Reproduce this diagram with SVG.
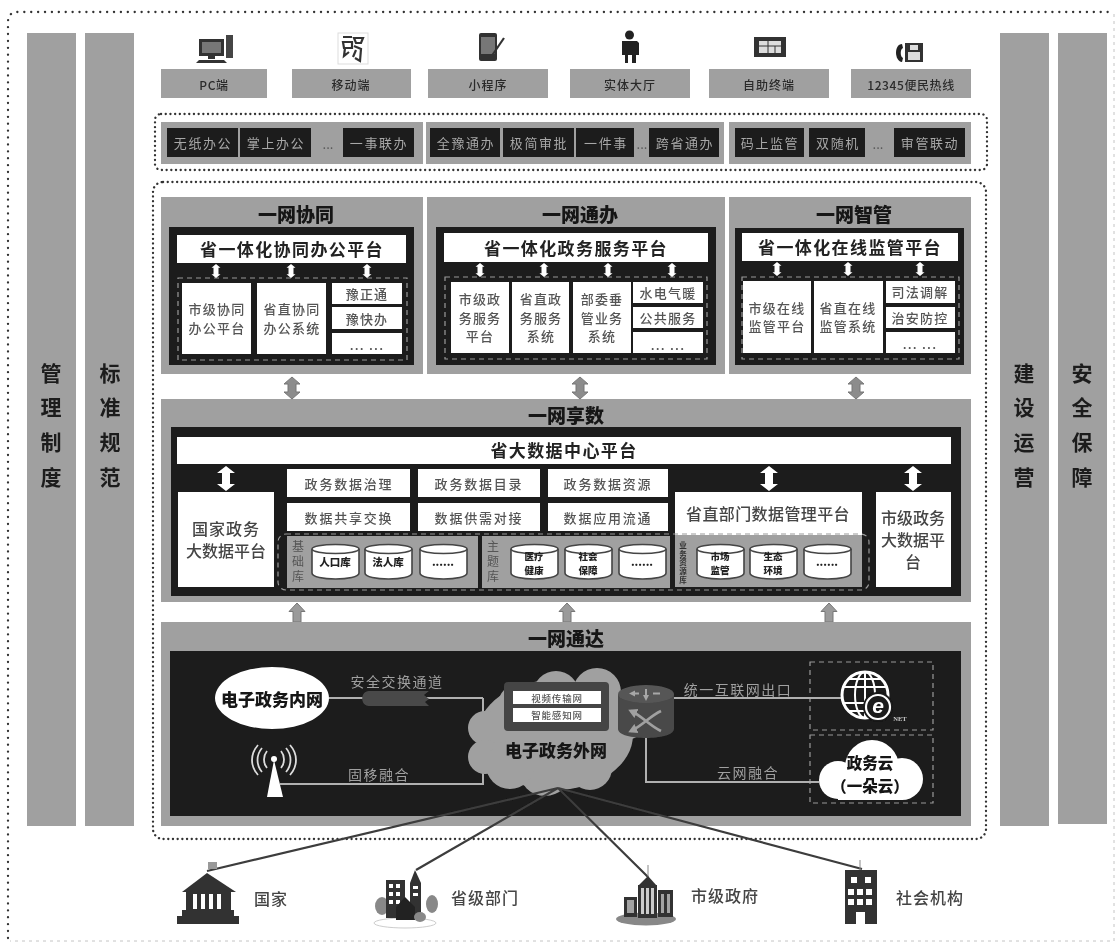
<svg xmlns="http://www.w3.org/2000/svg" width="1115" height="943" viewBox="0 0 1115 943">
<style>
text{font-family:"Noto Sans CJK SC","Liberation Sans",sans-serif;text-anchor:middle;dominant-baseline:central}
.g{fill:#a0a0a0}.k{fill:#1a1a1a}.w{fill:#fff}
.side{font-size:21px;font-weight:700;fill:#1c1c1c}
.top{font-size:12px;font-weight:500;fill:#2c2c2c;letter-spacing:.6px}
.dk{font-size:13px;fill:#a8a8a8;letter-spacing:1.6px}
.pt{font-size:19px;font-weight:900;fill:#151515}
.st{font-size:17px;font-weight:700;fill:#222;letter-spacing:1.4px}
.b{font-size:13px;font-weight:500;fill:#555;letter-spacing:1.2px}
.d{font-size:13px;font-weight:500;fill:#555;letter-spacing:1.8px}
.m{font-size:16px;font-weight:500;fill:#444}
.c{font-size:10.5px;font-weight:900;fill:#222}
.c2{font-size:9.500px;font-weight:900;fill:#222}
.v{font-size:13px;fill:#555}
.vt{writing-mode:vertical-rl;text-orientation:upright;font-size:12px;fill:#555;letter-spacing:3px}
.vs{writing-mode:vertical-rl;text-orientation:upright;font-size:7.5px;font-weight:700;fill:#333;letter-spacing:1.2px}
.l{font-size:14px;fill:#a0a0a0;letter-spacing:1.5px}
.big{font-size:17px;font-weight:900;fill:#151515}
.cl{font-size:15.500px;font-weight:900;fill:#151515}
.bot{font-size:16px;font-weight:500;fill:#444;letter-spacing:1px}
.ln{fill:none;stroke:#b0b0b0;stroke-width:2}
.spoke{fill:none;stroke:#3c3c3c;stroke-width:2.2}
.dot{fill:none;stroke:#333;stroke-width:2.3;stroke-linecap:round;stroke-dasharray:.1 4.6}
.dash{fill:none;stroke:#9a9a9a;stroke-width:1.2;stroke-dasharray:5 4}
.ic{fill:#333}.wn{fill:#fff}
</style>
<defs>
<filter id="soft" filterUnits="userSpaceOnUse" x="0" y="0" width="1115" height="943"><feGaussianBlur stdDeviation=".45"/></filter>
<g id="cyl"><path d="M1 6v24c0 8 47 8 47 0V6" fill="#fff" stroke="#444" stroke-width="1.600"/><ellipse cx="24.500" cy="6" rx="23.500" ry="4.500" fill="#fff" stroke="#444" stroke-width="1.600"/></g>
<path id="da" d="M0-12.500 9-5.500H4V5.500H9L0 12.500-9 5.500H-4V-5.500H-9Z" fill="#fff"/>
<path id="das" d="M0-7 4.500-3.200H2.500V3.200H4.500L0 7-4.500 3.200H-2.500V-3.200H-4.500Z" fill="#fff"/>
<path id="dg" d="M0-11 8-4H4V4H8L0 11-8 4H-4V-4H-8Z" fill="#8c8c8c" stroke="#777"/>
<path id="up" d="M0-9.500 8-1H4V9.500H-4V-1H-8Z" fill="#9a9a9a" stroke="#777"/>
<marker id="ra" markerUnits="userSpaceOnUse" markerWidth="11" markerHeight="11" refX="6" refY="5.500" orient="auto-start-reverse"><path d="M0 .5 9 5.500 0 10.500Z" fill="#a0a0a0"/></marker>
<marker id="rb" markerUnits="userSpaceOnUse" markerWidth="7" markerHeight="7" refX="3" refY="3.500" orient="auto-start-reverse"><path d="M0 .5 6 3.500 0 6.500Z" fill="#a8a8a8"/></marker>
</defs>
<rect width="1115" height="943" fill="#fff"/>
<g filter="url(#soft)">
<g id="frames">
<path d="M8 938V22Q8 12 18 12H1112" class="dot" style="stroke-dasharray:.1 6.800"/>
<path d="M1114 14V941H10" fill="none" stroke="#c4c4c4" stroke-dasharray="3 4"/>
<rect x="155" y="114" width="832" height="56" rx="6" class="dot"/>
<rect x="153" y="182" width="833" height="657" rx="10" class="dot"/>
</g>
<g id="side-guanli"><rect x="27" y="33" width="49" height="793" class="g"/><text class="side" x="51" y="372">管</text><text class="side" x="51" y="406">理</text><text class="side" x="51" y="441">制</text><text class="side" x="51" y="476">度</text></g>
<g id="side-biaozhun"><rect x="85" y="33" width="49" height="793" class="g"/><text class="side" x="110" y="372">标</text><text class="side" x="110" y="406">准</text><text class="side" x="110" y="441">规</text><text class="side" x="110" y="476">范</text></g>
<g id="side-jianshe"><rect x="1000" y="33" width="49" height="793" class="g"/><text class="side" x="1024" y="372">建</text><text class="side" x="1024" y="406">设</text><text class="side" x="1024" y="441">运</text><text class="side" x="1024" y="476">营</text></g>
<g id="side-anquan"><rect x="1058" y="33" width="49" height="791" class="g"/><text class="side" x="1082" y="372">安</text><text class="side" x="1082" y="406">全</text><text class="side" x="1082" y="441">保</text><text class="side" x="1082" y="476">障</text></g>

<g id="ch-pc"><rect x="199" y="39" width="25" height="17" fill="#333"/><rect x="202" y="42" width="19" height="11" fill="#777"/><rect x="226" y="35" width="7" height="23" fill="#444"/><rect x="208" y="56" width="7" height="3" fill="#333"/><path d="M199 60H224L227 63H196Z" fill="#333"/><rect x="161" y="69" width="106" height="29" class="g"/><text class="top" x="214" y="84">PC端</text></g>
<g id="ch-mobile"><rect x="338" y="33" width="30" height="31" fill="#fff" stroke="#ddd"/><path d="M343 37h9M343 42h9v6h-8zM345 48l-1 8 5-4M354 38h9l-2 5h-5zM354 46l7 3-1 12-5-3M356 50l-3 7" fill="none" stroke="#333" stroke-width="2.200"/><rect x="292" y="69" width="119" height="29" class="g"/><text class="top" x="351" y="84" style="letter-spacing:1px">移动端</text></g>
<g id="ch-mini"><rect x="479" y="33" width="18" height="28" rx="2" fill="#333"/><rect x="481" y="37" width="14" height="17" fill="#777"/><path d="M504 38 491 57" stroke="#333" stroke-width="2.200"/><rect x="428" y="69" width="120" height="29" class="g"/><text class="top" x="488" y="84" style="letter-spacing:1px">小程序</text></g>
<g id="ch-hall"><circle cx="629.500" cy="35" r="4.500" fill="#222"/><path d="M622 41h15l2 2v12h-3v8h-4v-8h-4v8h-3v-8h-3V43Z" fill="#222"/><rect x="570" y="69" width="120" height="29" class="g"/><text class="top" x="630" y="84" style="letter-spacing:1px">实体大厅</text></g>
<g id="ch-kiosk"><rect x="754" y="37" width="32" height="20" fill="#333"/><rect x="759" y="41" width="22" height="12" fill="#ddd"/><path d="M759 46H781M768 41V53M775 46V53" stroke="#333"/><rect x="709" y="69" width="120" height="29" class="g"/><text class="top" x="769" y="84" style="letter-spacing:1px">自助终端</text></g>
<g id="ch-hotline"><path d="M902 44c-8 0-8 17 0 18l1-4c-3-1-3-9 0-10Z" fill="#222"/><rect x="905" y="43" width="18" height="19" fill="#333"/><rect x="910" y="45" width="8" height="5" fill="#ddd"/><rect x="908" y="52" width="12" height="8" fill="#ddd"/><rect x="851" y="69" width="120" height="29" class="g"/><text class="top" x="911" y="84">12345便民热线</text></g>

<g id="svc-xietong"><rect x="161" y="122" width="262" height="42" class="g"/><rect x="167" y="128" width="71" height="29" class="k"/><rect x="240" y="128" width="71" height="29" class="k"/><rect x="343" y="128" width="71" height="29" class="k"/><text class="dk" x="203" y="142.500">无纸办公</text><text class="dk" x="276" y="142.500">掌上办公</text><text class="v" x="328" y="143">...</text><text class="dk" x="379" y="142.500">一事联办</text></g>
<g id="svc-tongban"><rect x="426" y="122" width="298" height="42" class="g"/><rect x="430" y="128" width="70" height="29" class="k"/><rect x="503" y="128" width="71" height="29" class="k"/><rect x="576" y="128" width="58" height="29" class="k"/><rect x="649" y="128" width="70" height="29" class="k"/><text class="dk" x="466" y="142.500">全豫通办</text><text class="dk" x="539" y="142.500">极简审批</text><text class="dk" x="606" y="142.500">一件事</text><text class="v" x="642" y="143">...</text><text class="dk" x="685" y="142.500">跨省通办</text></g>
<g id="svc-zhiguan"><rect x="729" y="122" width="242" height="42" class="g"/><rect x="735" y="128" width="69" height="29" class="k"/><rect x="809" y="128" width="56" height="29" class="k"/><rect x="894" y="128" width="71" height="29" class="k"/><text class="dk" x="770" y="142.500">码上监管</text><text class="dk" x="838" y="142.500">双随机</text><text class="v" x="878" y="143">...</text><text class="dk" x="930" y="142.500">审管联动</text></g>

<g id="panel-xietong">
<rect x="161" y="197" width="262" height="177" class="g"/><rect x="169" y="227" width="245" height="138" class="k"/>
<text class="pt" x="296" y="213">一网协同</text>
<rect x="177" y="235" width="229" height="28" class="w"/><text class="st" x="292" y="248">省一体化协同办公平台</text>
<rect x="178" y="278" width="229" height="82" class="dash"/>
<use href="#das" x="216" y="271"/><use href="#das" x="291" y="271"/><use href="#das" x="367" y="271"/>
<rect x="182" y="283" width="69" height="71" class="w"/><rect x="257" y="283" width="69" height="71" class="w"/>
<rect x="332" y="283" width="70" height="21" class="w"/><rect x="332" y="307" width="70" height="22" class="w"/><rect x="332" y="333" width="70" height="21" class="w"/>
<text class="b" x="217" y="308">市级协同</text><text class="b" x="217" y="327">办公平台</text>
<text class="b" x="292" y="308">省直协同</text><text class="b" x="292" y="327">办公系统</text>
<text class="b" x="367" y="293">豫正通</text><text class="b" x="367" y="318">豫快办</text><text class="b" x="367" y="344">... ...</text>
</g>
<g id="panel-tongban">
<rect x="427" y="197" width="298" height="177" class="g"/><rect x="436" y="227" width="280" height="138" class="k"/>
<text class="pt" x="580" y="213">一网通办</text>
<rect x="444" y="233" width="264" height="29" class="w"/><text class="st" x="576" y="247">省一体化政务服务平台</text>
<rect x="445" y="277" width="262" height="82" class="dash"/>
<use href="#das" x="480" y="270"/><use href="#das" x="544" y="270"/><use href="#das" x="608" y="270"/><use href="#das" x="672" y="270"/>
<rect x="451" y="282" width="58" height="71" class="w"/><rect x="512" y="282" width="57" height="71" class="w"/><rect x="573" y="282" width="58" height="71" class="w"/>
<rect x="633" y="282" width="70" height="21" class="w"/><rect x="633" y="307" width="70" height="21" class="w"/><rect x="633" y="332" width="70" height="21" class="w"/>
<text class="b" x="480" y="298">市级政</text><text class="b" x="480" y="317">务服务</text><text class="b" x="480" y="335">平台</text>
<text class="b" x="541" y="298">省直政</text><text class="b" x="541" y="317">务服务</text><text class="b" x="541" y="335">系统</text>
<text class="b" x="602" y="298">部委垂</text><text class="b" x="602" y="317">管业务</text><text class="b" x="602" y="335">系统</text>
<text class="b" x="668" y="292">水电气暖</text><text class="b" x="668" y="317">公共服务</text><text class="b" x="668" y="344">... ...</text>
</g>
<g id="panel-zhiguan">
<rect x="729" y="197" width="242" height="177" class="g"/><rect x="735" y="228" width="229" height="137" class="k"/>
<text class="pt" x="854" y="213">一网智管</text>
<rect x="742" y="233" width="216" height="28" class="w"/><text class="st" x="850" y="246">省一体化在线监管平台</text>
<rect x="742" y="277" width="217" height="82" class="dash"/>
<use href="#das" x="777" y="269"/><use href="#das" x="848" y="269"/><use href="#das" x="920" y="269"/>
<rect x="743" y="281" width="68" height="72" class="w"/><rect x="814" y="281" width="69" height="72" class="w"/>
<rect x="886" y="281" width="69" height="22" class="w"/><rect x="886" y="307" width="69" height="21" class="w"/><rect x="886" y="332" width="69" height="21" class="w"/>
<text class="b" x="777" y="307">市级在线</text><text class="b" x="777" y="325">监管平台</text>
<text class="b" x="848" y="307">省直在线</text><text class="b" x="848" y="325">监管系统</text>
<text class="b" x="920" y="291">司法调解</text><text class="b" x="920" y="317">治安防控</text><text class="b" x="920" y="343">... ...</text>
</g>

<g id="panel-xiangshu">
<rect x="161" y="399" width="810" height="203" class="g"/><rect x="171" y="427" width="790" height="169" class="k"/>
<text class="pt" x="566" y="414">一网享数</text>
<rect x="177" y="437" width="774" height="27" class="w"/><text class="st" x="564" y="449">省大数据中心平台</text>
<use href="#da" x="226" y="478.500"/><use href="#da" x="769" y="478.500"/><use href="#da" x="913" y="478.500"/>
<rect x="178" y="492" width="96" height="95" class="w"/><text class="m" x="226" y="528" style="letter-spacing:1px">国家政务</text><text class="m" x="226" y="550">大数据平台</text>
<rect x="287" y="469" width="123" height="28" class="w"/><rect x="418" y="469" width="122" height="28" class="w"/><rect x="548" y="469" width="120" height="28" class="w"/>
<rect x="287" y="503" width="123" height="28" class="w"/><rect x="418" y="503" width="122" height="28" class="w"/><rect x="548" y="503" width="120" height="28" class="w"/>
<text class="d" x="349" y="483">政务数据治理</text><text class="d" x="479" y="483">政务数据目录</text><text class="d" x="608" y="483">政务数据资源</text>
<text class="d" x="349" y="517">数据共享交换</text><text class="d" x="479" y="517">数据供需对接</text><text class="d" x="608" y="517">数据应用流通</text>
<rect x="287" y="536" width="191" height="52" class="g"/><rect x="482" y="536" width="188" height="52" class="g"/><rect x="675" y="535" width="187" height="52" class="g"/>
<rect x="675" y="492" width="187" height="43" class="w"/><text class="m" x="768" y="513" style="letter-spacing:.4px">省直部门数据管理平台</text>
<rect x="876" y="492" width="75" height="95" class="w"/><text class="m" x="913" y="517">市级政务</text><text class="m" x="913" y="539">大数据平</text><text class="m" x="913" y="561">台</text>
<rect x="278" y="534" width="591" height="56" rx="8" class="dash"/>
<text class="vt" x="298" y="563">基础库</text><text class="vt" x="493" y="563">主题库</text><text class="vs" x="683" y="563">业务资源库</text>
<use href="#cyl" x="311" y="543"/><use href="#cyl" x="364" y="543"/><use href="#cyl" x="419" y="543"/>
<use href="#cyl" x="510" y="543"/><use href="#cyl" x="564" y="543"/><use href="#cyl" x="618" y="543"/>
<use href="#cyl" x="696" y="543"/><use href="#cyl" x="749" y="543"/><use href="#cyl" x="803" y="543"/>
<text class="c" x="335" y="561">人口库</text><text class="c" x="388" y="561">法人库</text><text class="c" x="443" y="561">......</text>
<text class="c2" x="534" y="556">医疗</text><text class="c2" x="534" y="570">健康</text><text class="c2" x="588" y="556">社会</text><text class="c2" x="588" y="570">保障</text><text class="c" x="642" y="561">......</text>
<text class="c2" x="720" y="556">市场</text><text class="c2" x="720" y="570">监管</text><text class="c2" x="773" y="556">生态</text><text class="c2" x="773" y="570">环境</text><text class="c" x="827" y="561">......</text>
</g>

<g id="inter-arrows">
<use href="#dg" x="292" y="388"/><use href="#dg" x="580" y="388"/><use href="#dg" x="856" y="388"/>
<use href="#up" x="297" y="612.500"/><use href="#up" x="567" y="612.500"/><use href="#up" x="829" y="612.500"/>
</g>

<g id="panel-tongda">
<rect x="161" y="622" width="810" height="204" class="g"/><rect x="170" y="651" width="791" height="165" class="k"/>
<text class="pt" x="566" y="637">一网通达</text>
<rect x="810" y="662" width="123" height="68" class="dash"/><rect x="810" y="735" width="123" height="68" class="dash"/>
</g>
<g id="connectors">
<path class="ln" d="M329 698H483M483 698V784H280M674 698H842M646 738V782H819"/>
</g>
<g id="edge-labels">
<text class="l" x="397" y="681">安全交换通道</text><text class="l" x="379" y="774">固移融合</text><text class="l" x="738" y="689">统一互联网出口</text><text class="l" x="748" y="772">云网融合</text>
</g>
<g id="node-intranet"><ellipse cx="272" cy="698" rx="57" ry="31" fill="#fff"/><text class="big" x="272" y="698">电子政务内网</text></g>
<g id="node-gateway"><path d="M369 691H429L424 695 429 699 425 702 429 706H369C360 706 360 691 369 691Z" fill="#4a4a4a"/></g>
<g id="node-antenna"><path d="M274 760 283 797H267Z" fill="#fff"/><circle cx="274" cy="759" r="3" fill="#fff"/><path d="M267 751c-4 5-4 12 0 17M281 751c4 5 4 12 0 17M262 748c-6 7-6 17 0 24M286 748c6 7 6 17 0 24M258 745c-8 9-8 21 0 30M290 745c8 9 8 21 0 30" fill="none" stroke="#dcdcdc" stroke-width="1.800"/></g>
<g id="node-extranet">
<g fill="#a0a0a0"><ellipse cx="555" cy="735" rx="78" ry="55"/><circle cx="485" cy="728" r="17"/><circle cx="485" cy="757" r="17"/><circle cx="520" cy="705" r="22"/><circle cx="556" cy="694" r="23"/><circle cx="597" cy="692" r="24"/><circle cx="625" cy="715" r="25"/><circle cx="545" cy="770" r="26"/><circle cx="590" cy="768" r="22"/><circle cx="510" cy="765" r="24"/></g>
<rect x="504" y="682" width="105" height="49" rx="4" fill="#444"/>
<rect x="513" y="691" width="88" height="13" class="w"/><rect x="513" y="708" width="88" height="14" class="w"/>
<text x="557" y="697.500" style="font-size:9.500px;fill:#555;font-weight:500;letter-spacing:.8px">视频传输网</text><text x="557" y="715" style="font-size:9.500px;fill:#555;font-weight:500;letter-spacing:.8px">智能感知网</text>
<text class="big" x="556" y="749">电子政务外网</text>
</g>
<g id="spokes"><path class="spoke" d="M558 788 207 871M558 788 416 870M558 788 648 877M558 788 862 869"/></g>
<g id="node-router"><path d="M618 694V729C618 741 674 741 674 729V694Z" fill="#484848"/><ellipse cx="646" cy="694" rx="28" ry="9" fill="#575757"/>
<path d="M631 711C642 716 650 726 661 731M661 711C650 716 642 726 631 731" stroke="#a0a0a0" stroke-width="2.800" marker-start="url(#ra)" marker-end="url(#ra)" fill="none"/>
<path d="M632 693.500H639M653 693.500H660M646 689V698" stroke="#a8a8a8" stroke-width="2" marker-start="url(#rb)" marker-end="url(#rb)" fill="none"/></g>
<g id="node-internet"><circle cx="865" cy="695" r="23" fill="#1a1a1a" stroke="#fff" stroke-width="3"/><g fill="none" stroke="#fff" stroke-width="2"><ellipse cx="865" cy="695" rx="10" ry="23"/><path d="M865 672V718M843 687H887M843 703H887M848 679H882M848 711H882"/></g><circle cx="878" cy="707" r="15" fill="#1a1a1a"/><circle cx="878" cy="707" r="12" fill="none" stroke="#fff" stroke-width="2.200"/><text x="878" y="705" style="font-size:21px;font-weight:700;font-style:italic;fill:#fff;font-family:'Liberation Sans',sans-serif">e</text><text x="900" y="718" style="font-size:6.500px;font-weight:700;fill:#ccc;font-family:'Liberation Serif',serif">NET</text></g>
<g id="node-cloud"><g class="w"><circle cx="872" cy="767" r="27"/><circle cx="838" cy="780" r="19"/><circle cx="902" cy="779" r="21"/><rect x="838" y="770" width="64" height="30"/></g><text class="cl" x="870" y="762">政务云</text><text class="cl" x="870" y="785">（一朵云）</text></g>

<g id="org-guojia"><rect x="208" y="862" width="9" height="7" fill="#999"/><path d="M207 873 236 892H182Z" class="ic"/><path d="M186 892H231V910H186Z" class="ic"/><g class="wn"><rect x="193" y="894" width="4" height="15"/><rect x="201" y="894" width="4" height="15"/><rect x="209" y="894" width="4" height="15"/><rect x="217" y="894" width="4" height="15"/></g><path d="M182 910H234V916H239V924H177V916H182Z" class="ic"/><text class="bot" x="271" y="898">国家</text></g>
<g id="org-shengji"><ellipse cx="405" cy="923" rx="31" ry="5" fill="#fff" stroke="#ccc"/><ellipse cx="382" cy="906" rx="7" ry="9" fill="#888"/><ellipse cx="432" cy="904" rx="6" ry="9" fill="#888"/><rect x="386" y="880" width="19" height="38" class="ic"/><path d="M415 870 421 883V917H410V883Z" class="ic"/><g class="wn"><rect x="389" y="884" width="4" height="4"/><rect x="396" y="884" width="4" height="4"/><rect x="389" y="892" width="4" height="4"/><rect x="396" y="892" width="4" height="4"/><rect x="389" y="900" width="4" height="4"/><rect x="396" y="900" width="4" height="4"/><rect x="413" y="886" width="5" height="3"/><rect x="413" y="893" width="5" height="3"/></g><path d="M405 897 415 907V920H396V907Z" fill="#222"/><ellipse cx="420" cy="917" rx="6" ry="5" fill="#888"/><text class="bot" x="485" y="897">省级部门</text></g>
<g id="org-shiji"><ellipse cx="646" cy="919" rx="30" ry="6.500" fill="#888"/><path d="M648 865V878" stroke="#888"/><path d="M648 876 657 886H638Z" class="ic"/><rect x="638" y="885" width="19" height="33" class="ic"/><rect x="624" y="897" width="13" height="20" class="ic"/><rect x="658" y="890" width="15" height="27" class="ic"/><g class="wn"><rect x="641" y="888" width="3" height="26" style="opacity:.75"/><rect x="646" y="888" width="3" height="26" style="opacity:.75"/><rect x="651" y="888" width="3" height="26" style="opacity:.75"/><rect x="627" y="900" width="7" height="13" style="opacity:.55"/><rect x="661" y="894" width="3" height="19" style="opacity:.55"/><rect x="667" y="894" width="3" height="19" style="opacity:.55"/></g><text class="bot" x="725" y="895">市级政府</text></g>
<g id="org-shehui"><path d="M860 860V870" stroke="#888"/><rect x="845" y="870" width="32" height="54" class="ic"/><g class="wn"><rect x="851" y="877" width="6" height="6"/><rect x="865" y="877" width="6" height="6"/><rect x="848" y="889" width="6" height="6"/><rect x="857" y="889" width="6" height="6"/><rect x="866" y="889" width="6" height="6"/><rect x="848" y="899" width="6" height="6"/><rect x="857" y="899" width="6" height="6"/><rect x="866" y="899" width="6" height="6"/><rect x="856" y="912" width="9" height="12"/></g><text class="bot" x="930" y="897">社会机构</text></g>
</g>
</svg>
